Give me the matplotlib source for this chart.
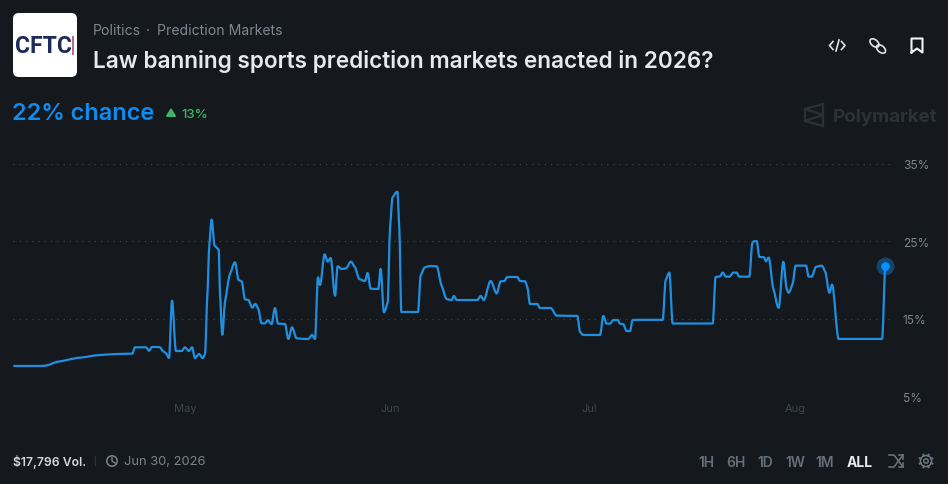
import numpy as np
import matplotlib.pyplot as plt
from matplotlib.path import Path
from matplotlib.patches import FancyBboxPatch, PathPatch, Polygon, Circle, Rectangle, Ellipse

# days since May 1
days = [-25.89, -21.62, -21.12, -19.1, -15.84, -12.82, -10.31, -7.94, -7.54, -5.88, -5.43, -4.98, -3.87, -3.27, -2.87, -2.41,
        -1.96, -1.36, -0.5, 0, 0.6, 1.06, 1.51, 2.11, 2.66, 3.02, 3.37, 3.67, 4.02, 4.47, 5.08, 5.28, 5.63, 6.03, 6.79, 7.54,
        8.09, 8.55, 9.05, 9.55, 10.16, 10.61, 11.06, 11.56, 12.07, 12.47, 13.07, 13.57, 14.03, 15.08, 15.59, 16.14, 16.84,
        18.6, 19.16, 19.61, 20.06, 20.36, 21.07, 21.52, 21.97, 22.63, 23.03, 23.64, 24.28, 25.04, 25.64, 26.29, 27.15, 27.55,
        28.0, 29.16, 29.51, 30.01, 30.57, 30.92, 31.32, 32.03, 32.33, 32.63, 35.14, 35.55, 36.2, 36.96, 37.96, 38.71, 39.47,
        40.22, 40.57, 40.98, 44.09, 44.6, 45.05, 46.1, 47.01, 47.62, 48.17, 48.62, 50.13, 50.53, 51.28, 51.64, 52.04, 53.14,
        53.55, 55.15, 56.06, 59.18, 59.58, 60.08, 62.6, 63.1, 63.6, 64.1, 64.6, 65.26, 65.61, 66.11, 66.62, 67.12, 67.52,
        68.63, 72.05, 72.5, 73.06, 73.56, 79.59, 80.04, 80.7, 81.1, 81.6, 82.1, 82.71, 83.21, 83.61, 85.12, 85.57, 85.82,
        86.23, 86.63, 87.33, 87.63, 88.03, 88.74, 89.54, 90.25, 90.75, 91.05, 91.65, 92.11, 93.67, 94.07, 94.52, 95.18,
        96.03, 96.58, 97.19, 97.59, 98.6, 105.13, 105.59]
chance = [8.93, 8.93, 8.97, 9.49, 10.0, 10.34, 10.47, 10.52, 11.33, 11.33, 10.9, 11.37, 11.37, 10.82, 10.56, 9.96,
          17.34, 10.86, 10.86, 11.33, 10.86, 11.33, 9.96, 10.47, 9.96, 10.47, 17.98, 24.42, 27.77, 24.42, 23.91, 18.41, 12.96, 17.12, 20.77, 22.27,
          20.0, 19.83, 17.51, 17.42, 16.44, 16.91, 16.27, 14.42, 14.42, 14.81, 14.33, 16.39, 14.38, 14.33, 12.4, 13.91, 12.49,
          12.4, 12.92, 12.4, 20.34, 19.36, 23.3, 22.36, 22.83, 17.98, 21.76, 21.42, 21.5, 22.36, 21.63, 20.13, 19.87, 20.9,
          18.88, 18.84, 21.42, 15.84, 17.12, 26.57, 30.64, 31.37, 26.57, 15.88, 15.88, 20.56, 21.63, 21.8, 21.76, 19.27, 17.55,
          17.42, 17.94, 17.42, 17.42, 17.94, 17.42, 19.87, 18.28, 19.83, 19.87, 20.39, 20.39, 19.87, 19.83, 19.06, 16.91, 16.91,
          16.39, 16.39, 15.41, 15.37, 13.35, 12.92, 12.92, 15.37, 14.38, 14.38, 14.85, 14.85, 14.38, 14.29, 13.43, 13.43, 14.85,
          14.87, 14.87, 19.96, 20.95, 14.4, 14.4, 20.39, 20.47, 20.95, 20.43, 20.43, 20.95, 20.95, 20.43, 20.43, 24.7, 25.0,
          25.0, 22.97, 22.93, 22.41, 22.89, 18.88, 16.42, 22.33, 18.88, 18.36, 19.53, 21.85, 21.85, 20.43, 20.43, 21.68,
          21.85, 21.03, 18.36, 19.4, 12.41, 12.41, 21.85]
month_pos = [0, 31, 61, 92]
month_labels = ['May', 'Jun', 'Jul', 'Aug']
y_ticks = [5, 15, 25, 35]
ranges = ['1H', '6H', '1D', '1W', '1M', 'ALL']
range_x = [706, 736, 765, 795, 825, 860]

BG = '#15191d'
BLUE = '#0f8cf0'
plt.rcParams['font.family'] = ['Inter', 'DejaVu Sans']


def monotone_path(x, y):
    # same curve type the site uses, bezier segments through the points
    x = np.asarray(x, dtype=float)
    y = np.asarray(y, dtype=float)
    h = np.diff(x)
    s = np.diff(y) / h
    t = np.zeros(len(x))
    for i in range(1, len(x) - 1):
        if s[i - 1] * s[i] > 0:
            t[i] = np.sign(s[i]) * min(abs(s[i - 1]), abs(s[i]), 0.5 * abs((s[i - 1] * h[i] + s[i] * h[i - 1]) / (h[i - 1] + h[i])))
    t[0] = s[0]
    t[-1] = s[-1]
    verts = [(x[0], y[0])]
    codes = [Path.MOVETO]
    for i in range(len(h)):
        verts += [(x[i] + h[i] / 3, y[i] + t[i] * h[i] / 3),
                  (x[i + 1] - h[i] / 3, y[i + 1] - t[i + 1] * h[i] / 3),
                  (x[i + 1], y[i + 1])]
        codes += [Path.CURVE4] * 3
    return Path(verts, codes)


W, H = 948, 485
fig = plt.figure(figsize=(W / 100, H / 100), dpi=100, facecolor=BG)

# overlay in pixel coordinates for the header and footer
bg = fig.add_axes([0, 0, 1, 1])
bg.set_xlim(0, W)
bg.set_ylim(H, 0)
bg.axis('off')

# chart
ax = fig.add_axes([13 / W, (H - 397.5) / H, 880 / W, 233 / H], facecolor='none')
ax.set_xlim(-25.94, 106.79)
ax.set_ylim(5, 35)
ax.add_patch(PathPatch(monotone_path(days, chance), fc='none', ec='#1f8fe0', lw=1.6, joinstyle='round', zorder=3, clip_on=False))
ax.scatter(days[-1], chance[-1], s=165, color=BLUE, alpha=0.4, lw=0, zorder=4, clip_on=False)
ax.scatter(days[-1], chance[-1], s=38, color='#0093fd', lw=0, zorder=5, clip_on=False)
for s in ax.spines.values():
    s.set_visible(False)
ax.set_yticks(y_ticks)
ax.set_yticklabels([f'{v}%' for v in y_ticks], fontsize=8.6, color='#7a838c')
ax.yaxis.tick_right()
ax.tick_params(axis='y', length=0, pad=7)
ax.set_xticks(month_pos)
ax.set_xticklabels(month_labels, fontsize=8, color='#3d444b')
ax.tick_params(axis='x', length=0, pad=5)
ax.grid(axis='y', color='#3a4046', lw=0.9, linestyle=(0, (1, 4)))
ax.set_axisbelow(True)

# logo
bg.add_patch(FancyBboxPatch((13, 14), 64, 64, boxstyle='round,pad=0,rounding_size=6', fc='white', lw=0))
bg.text(15, 46.5, 'CFTC', fontsize=16.5, fontweight='bold', color='#1f2a5c', va='center', ha='left', family='Roboto')
bg.add_patch(Rectangle((72, 37), 2.4, 19, fc='#c76a80', lw=0))

# header text
bg.text(93, 31, 'Politics', fontsize=10.1, color='#7d868f', va='center')
bg.text(148, 31, '·', fontsize=10.1, color='#7d868f', va='center', ha='center')
bg.text(157, 31, 'Prediction Markets', fontsize=10.1, color='#7d868f', va='center')
bg.text(93, 61.5, 'Law banning sports prediction markets enacted in 2026?', fontsize=16.25, fontweight='semibold',
        color='#e6eaee', va='center')
bg.text(12, 114, '22% chance', fontsize=16.9, fontweight='semibold', color=BLUE, va='center')
bg.add_patch(Polygon([[167, 117], [175, 117], [171, 110.5]], closed=True, fc='#3fb56c', ec='#3fb56c', lw=1.4, joinstyle='round'))
bg.text(181, 114.5, '13%', fontsize=9.5, fontweight='medium', color='#3fb56c', va='center')

# top right icons
ic = '#dfe3e7'
bg.plot([833, 829.5, 833], [42.5, 46.5, 50.5], color=ic, lw=1.2)
bg.plot([841.5, 845, 841.5], [42.5, 46.5, 50.5], color=ic, lw=1.2)
bg.plot([836, 839], [52, 41], color=ic, lw=1.2)
bg.add_patch(Ellipse((874.5, 44), 10.5, 6.5, angle=40, fc='none', ec=ic, lw=1.2))
bg.add_patch(Ellipse((881, 50), 10.5, 6.5, angle=40, fc='none', ec=ic, lw=1.2))
bg.plot([911.5, 911.5, 922.5, 922.5, 917, 911.5], [53.5, 39.5, 39.5, 53.5, 49.5, 53.5], color='#f0f2f4', lw=1.5)

# watermark
wm = '#2b3138'
bg.add_patch(Polygon([[805, 110], [823, 105], [823, 127], [805, 122]], closed=True, fc='none', ec=wm, lw=1.6))
bg.plot([805, 823, 805], [110, 116, 122], color=wm, lw=1.6)
bg.text(833, 117.5, 'Polymarket', fontsize=13.5, fontweight='bold', color=wm, va='center')

# footer
bg.text(13, 462, '$17,796 Vol.', fontsize=8.8, fontweight='semibold', color='#d3d8dc', va='center')
bg.plot([95, 95], [457, 466], color='#2c3238', lw=1)
bg.add_patch(Circle((112, 462), 5.2, fc='none', ec='#7a838c', lw=1.1))
bg.plot([112, 112, 115], [458.5, 462, 464], color='#7a838c', lw=1)
bg.text(124, 462, 'Jun 30, 2026', fontsize=9.3, color='#7a838c', va='center')
for lab, x in zip(ranges, range_x):
    if lab == 'ALL':
        bg.text(x, 463, lab, fontsize=10, fontweight='bold', color='#e6eaee', va='center', ha='center')
    else:
        bg.text(x, 463, lab, fontsize=10, fontweight='semibold', color='#66707a', va='center', ha='center')

# shuffle icon
sc = '#6d7680'
bg.plot([889, 894, 903], [456, 456, 468], color=sc, lw=1.1)
bg.plot([889, 894, 903], [468, 468, 456], color=sc, lw=1.1)
bg.plot([899, 903, 903], [456, 456, 460], color=sc, lw=1.1)
bg.plot([899, 903, 903], [468, 468, 464], color=sc, lw=1.1)

# gear icon
bg.add_patch(Circle((926, 462), 2.2, fc='none', ec=sc, lw=1.1))
bg.add_patch(Circle((926, 462), 5.6, fc='none', ec=sc, lw=1.1))
for a in np.deg2rad(np.arange(0, 360, 45) + 22.5):
    bg.plot([926 + 5.6 * np.cos(a), 926 + 6.8 * np.cos(a)], [462 + 5.6 * np.sin(a), 462 + 6.8 * np.sin(a)], color=sc, lw=1.4)

fig.savefig('out.png', dpi=100, facecolor=BG)
